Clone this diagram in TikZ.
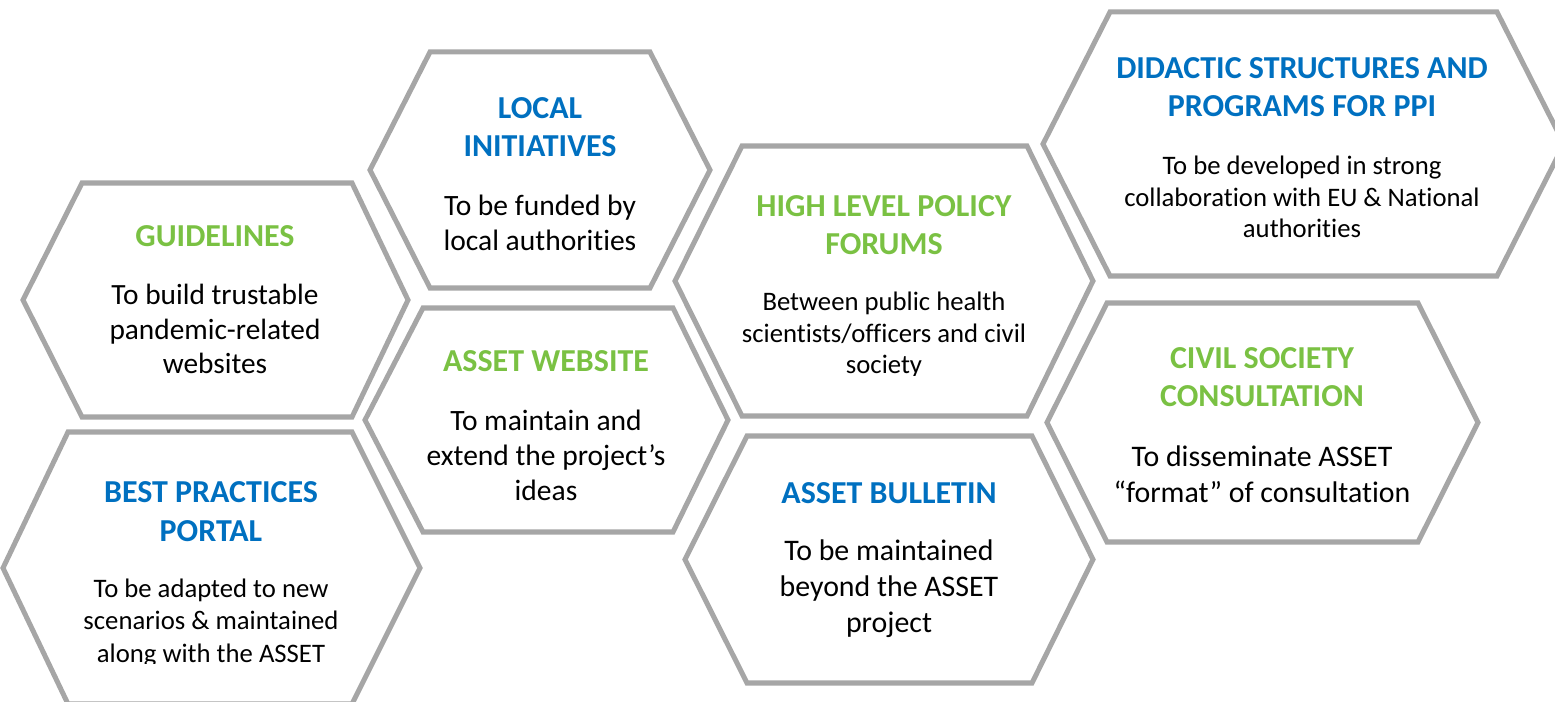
\documentclass[tikz,border=0pt]{standalone}
\usepackage{fontspec}
\setmainfont{Carlito}[Ligatures=NoCommon]
\usepackage{xcolor}
\usepackage{tikz}
\definecolor{hexgray}{HTML}{A6A6A6}
\definecolor{headblue}{HTML}{0070C0}
\definecolor{headgreen}{HTML}{7AC143}
% one cell: left tip, top-left, top-right, right tip, top, bottom
\newcommand{\hexcell}[6]{
\draw[hexline] (#1,{(#5+#6)/2}) -- (#2,#5) -- (#3,#5) -- (#4,{(#5+#6)/2}) -- (#3,#6) -- (#2,#6) -- cycle;
}

\begin{document}
\begin{tikzpicture}[x=0.02cm,y=-0.02cm,
  hexline/.style={draw=hexgray,line width=2.85pt},
  head/.style={anchor=base,align=center,inner sep=0pt,font=\fontsize{18.2}{22}\selectfont\bfseries},
  blue head/.style={head,text=headblue},
  green head/.style={head,text=headgreen},
  body/.style 2 args={anchor=base,align=center,inner sep=0pt,font=\fontsize{#1}{#2}\selectfont}]
\clip (0,0) rectangle (1555,702);
\foreach \lx/\tlx/\trx/\rx/\tp/\bt in {23/82/352/408/183/417, 3/68/352/420/432/704,
    370/430/650/710/52/288, 365/423/673/728/308/532, 675/742/1027/1093/146/416,
    685/747/1032/1093/436/683, 1043/1110/1497/1564/12/276, 1047/1107/1418/1478/303/542}{
  \hexcell{\lx}{\tlx}{\trx}{\rx}{\tp}{\bt}
}
% nodes sit on the baseline of their last line
% left column
\node[green head] (guide-t) at (215,247) {GUIDELINES};
\node[body={16.7}{19.8}] (guide-b) at (215,374) {To build trustable\\pandemic-related\\websites};
\node[blue head] (best-t) at (211,541) {BEST PRACTICES\\PORTAL};
\begin{scope}
\clip (0,0) rectangle (1555,663.5);
\node[body={15.2}{18.4}] (best-b) at (211,662) {To be adapted to new\\scenarios \& maintained\\along with the ASSET};
\end{scope}
% second column
\node[blue head] (local-t) at (540,157) {LOCAL\\INITIATIVES};
\node[body={16.8}{20.4}] (local-b) at (540,251) {To be funded by\\local authorities};
\node[green head] (web-t) at (546,372) {ASSET WEBSITE};
\node[body={16.8}{19.8}] (web-b) at (546,500) {To maintain and\\extend the project’s\\ideas};
% third column
\node[green head] (forum-t) at (884,255) {HIGH LEVEL POLICY\\FORUMS};
\begin{scope}
\clip (0,0) rectangle (1555,375.5);
\node[body={15.2}{18.1}] (forum-b) at (884,374) {Between public health\\scientists/officers and civil\\society};
\end{scope}
\node[blue head] (bull-t) at (889,503) {ASSET BULLETIN};
\node[body={17}{20.4}] (bull-b) at (889,632) {To be maintained\\beyond the ASSET\\project};
% right column
\node[blue head] (ppi-t) at (1302,117) {DIDACTIC STRUCTURES AND\\PROGRAMS FOR PPI};
\node[body={15.2}{18.1}] (ppi-b) at (1302,238) {To be developed in strong\\collaboration with EU \& National\\authorities};
\node[green head] (civil-t) at (1262,407) {CIVIL SOCIETY\\CONSULTATION};
\node[body={17}{20.4}] (civil-b) at (1262,502) {To disseminate ASSET\\“format” of consultation};
\end{tikzpicture}
\end{document}
